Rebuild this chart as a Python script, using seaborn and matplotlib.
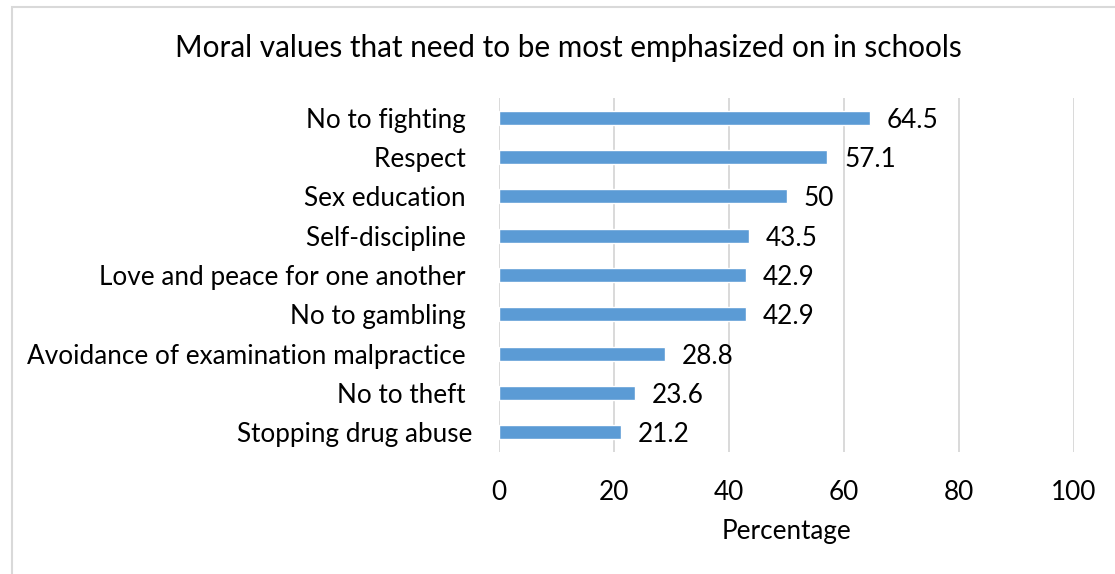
import matplotlib
matplotlib.use("Agg")
import matplotlib.pyplot as plt
import seaborn as sns
import pandas as pd
from matplotlib.patches import Rectangle

categories = ["No to fighting ", "Respect ", "Sex education ", "Self-discipline ",
              "Love and peace for one another ", "No to gambling ",
              "Avoidance of examination malpractice ", "No to theft ",
              "Stopping drug abuse"]
values = [64.5, 57.1, 50, 43.5, 42.9, 42.9, 28.8, 23.6, 21.2]
value_labels = ["64.5", "57.1", "50", "43.5", "42.9", "42.9", "28.8", "23.6", "21.2"]
xticks = [0, 20, 40, 60, 80, 100]

title = "Moral values that need to be most emphasized on in schools"
xlabel = "Percentage"

df = pd.DataFrame({"category": categories, "value": values})

sns.set_style("white")
plt.rcParams["font.family"] = ["Lato", "DejaVu Sans"]

W, H = 1115, 574
fig = plt.figure(figsize=(W / 100, H / 100), dpi=100)
ax = fig.add_axes([499 / W, 1 - 452 / H, (1074 - 499) / W, (452 - 98) / H])

sns.barplot(data=df, x="value", y="category", color="#5B9BD5", saturation=1,
            width=0.36, ax=ax, orient="h")

fs = 18.8
ax.set_xlim(0, 100)
ax.set_ylim(8.5, -0.5)
ax.set_xticks(xticks)
ax.set_xticklabels([str(t) for t in xticks])
ax.grid(axis="x", color="#D9D9D9", linewidth=1.4)
ax.set_axisbelow(True)
for s in ax.spines.values():
    s.set_visible(False)
ax.tick_params(axis="x", length=0, pad=20, labelsize=fs, colors="black")
ax.tick_params(axis="y", length=0, pad=19, labelsize=fs, colors="black")
ax.set_ylabel("")
ax.set_xlabel(xlabel, fontsize=fs, labelpad=10, color="black")

for i, (v, lab) in enumerate(zip(values, value_labels)):
    ax.annotate(lab, xy=(v, i), xytext=(12, 0), textcoords="offset points",
                ha="left", va="center_baseline", fontsize=fs, color="black")

fig.text(568 / W, 1 - 48 / H, title, ha="center", va="center", fontsize=21.4, color="black")

fig.patches.append(Rectangle((12 / W, -0.05), 1.2, 1 - 6.5 / H + 0.05,
                             transform=fig.transFigure, fill=False,
                             edgecolor="#D9D9D9", linewidth=1.5))

fig.savefig("out.png", dpi=100, facecolor="white")
